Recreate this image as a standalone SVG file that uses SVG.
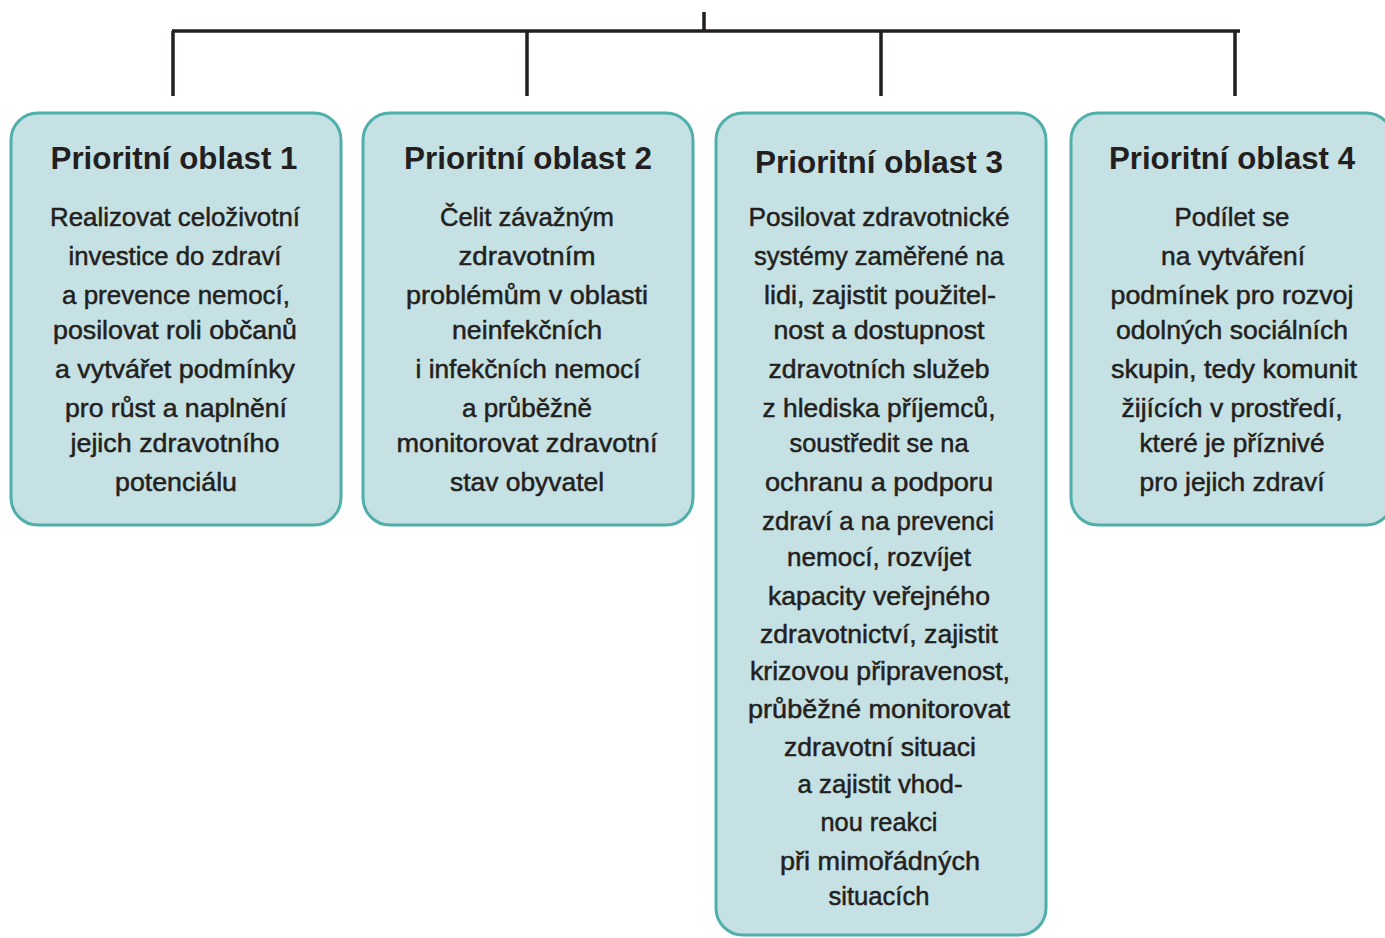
<svg xmlns="http://www.w3.org/2000/svg" width="1385" height="938" viewBox="0 0 1385 938">
<style>
.box{fill:#c6e1e3;stroke:#4fb0ab;stroke-width:3}
.conn{stroke:#231f20;stroke-width:3.5;fill:none}
.t{font-family:"Liberation Sans",Arial,sans-serif;font-weight:bold;font-size:31px;fill:#231f20;text-anchor:middle}
.b{font-family:"Liberation Sans",Arial,sans-serif;font-size:26px;fill:#231f20;stroke:#231f20;stroke-width:0.5;text-anchor:middle}
</style>
<rect width="1385" height="938" fill="#ffffff"/>
<g id="connectors">
<path class="conn" d="M704 12V31M172 31H1240M173 31V96M527 31V96M881 31V96M1235 31V96"/>
</g>
<g id="node1">
<rect class="box" x="11" y="113" width="330" height="412" rx="27"/>
<text class="t" x="174" y="169" textLength="247" lengthAdjust="spacingAndGlyphs">Prioritní oblast 1</text>
<text class="b" x="175" y="226" textLength="250" lengthAdjust="spacingAndGlyphs">Realizovat celoživotní</text>
<text class="b" x="175" y="265" textLength="213" lengthAdjust="spacingAndGlyphs">investice do zdraví</text>
<text class="b" x="176" y="304" textLength="228" lengthAdjust="spacingAndGlyphs">a prevence nemocí,</text>
<text class="b" x="175" y="339" textLength="244" lengthAdjust="spacingAndGlyphs">posilovat roli občanů</text>
<text class="b" x="175" y="378" textLength="240" lengthAdjust="spacingAndGlyphs">a vytvářet podmínky</text>
<text class="b" x="176" y="417" textLength="222" lengthAdjust="spacingAndGlyphs">pro růst a naplnění</text>
<text class="b" x="175" y="452" textLength="209" lengthAdjust="spacingAndGlyphs">jejich zdravotního</text>
<text class="b" x="176" y="491" textLength="122" lengthAdjust="spacingAndGlyphs">potenciálu</text>
</g>
<g id="node2">
<rect class="box" x="363" y="113" width="330" height="412" rx="27"/>
<text class="t" x="528" y="169" textLength="248" lengthAdjust="spacingAndGlyphs">Prioritní oblast 2</text>
<text class="b" x="527" y="226" textLength="174" lengthAdjust="spacingAndGlyphs">Čelit závažným</text>
<text class="b" x="527" y="265" textLength="137" lengthAdjust="spacingAndGlyphs">zdravotním</text>
<text class="b" x="527" y="304" textLength="242" lengthAdjust="spacingAndGlyphs">problémům v oblasti</text>
<text class="b" x="527" y="339" textLength="150" lengthAdjust="spacingAndGlyphs">neinfekčních</text>
<text class="b" x="528" y="378" textLength="225" lengthAdjust="spacingAndGlyphs">i infekčních nemocí</text>
<text class="b" x="527" y="417" textLength="130" lengthAdjust="spacingAndGlyphs">a průběžně</text>
<text class="b" x="527" y="452" textLength="261" lengthAdjust="spacingAndGlyphs">monitorovat zdravotní</text>
<text class="b" x="527" y="491" textLength="154" lengthAdjust="spacingAndGlyphs">stav obyvatel</text>
</g>
<g id="node3">
<rect class="box" x="716" y="113" width="330" height="822" rx="27"/>
<text class="t" x="879" y="173" textLength="248" lengthAdjust="spacingAndGlyphs">Prioritní oblast 3</text>
<text class="b" x="879" y="226" textLength="261" lengthAdjust="spacingAndGlyphs">Posilovat zdravotnické</text>
<text class="b" x="879" y="265" textLength="250" lengthAdjust="spacingAndGlyphs">systémy zaměřené na</text>
<text class="b" x="880" y="304" textLength="232" lengthAdjust="spacingAndGlyphs">lidi, zajistit použitel-</text>
<text class="b" x="879" y="339" textLength="211" lengthAdjust="spacingAndGlyphs">nost a dostupnost</text>
<text class="b" x="879" y="378" textLength="221" lengthAdjust="spacingAndGlyphs">zdravotních služeb</text>
<text class="b" x="879" y="417" textLength="233" lengthAdjust="spacingAndGlyphs">z hlediska příjemců,</text>
<text class="b" x="879" y="452" textLength="179" lengthAdjust="spacingAndGlyphs">soustředit se na</text>
<text class="b" x="879" y="491" textLength="228" lengthAdjust="spacingAndGlyphs">ochranu a podporu</text>
<text class="b" x="878" y="530" textLength="232" lengthAdjust="spacingAndGlyphs">zdraví a na prevenci</text>
<text class="b" x="879" y="566" textLength="184" lengthAdjust="spacingAndGlyphs">nemocí, rozvíjet</text>
<text class="b" x="879" y="605" textLength="222" lengthAdjust="spacingAndGlyphs">kapacity veřejného</text>
<text class="b" x="879" y="643" textLength="238" lengthAdjust="spacingAndGlyphs">zdravotnictví, zajistit</text>
<text class="b" x="880" y="680" textLength="260" lengthAdjust="spacingAndGlyphs">krizovou připravenost,</text>
<text class="b" x="879" y="718" textLength="262" lengthAdjust="spacingAndGlyphs">průběžné monitorovat</text>
<text class="b" x="880" y="756" textLength="192" lengthAdjust="spacingAndGlyphs">zdravotní situaci</text>
<text class="b" x="880" y="793" textLength="165" lengthAdjust="spacingAndGlyphs">a zajistit vhod-</text>
<text class="b" x="879" y="831" textLength="117" lengthAdjust="spacingAndGlyphs">nou reakci</text>
<text class="b" x="880" y="870" textLength="200" lengthAdjust="spacingAndGlyphs">při mimořádných</text>
<text class="b" x="879" y="905" textLength="101" lengthAdjust="spacingAndGlyphs">situacích</text>
</g>
<g id="node4">
<rect class="box" x="1071" y="113" width="322" height="412" rx="27"/>
<text class="t" x="1232" y="169" textLength="246" lengthAdjust="spacingAndGlyphs">Prioritní oblast 4</text>
<text class="b" x="1232" y="226" textLength="115" lengthAdjust="spacingAndGlyphs">Podílet se</text>
<text class="b" x="1233" y="265" textLength="144" lengthAdjust="spacingAndGlyphs">na vytváření</text>
<text class="b" x="1232" y="304" textLength="243" lengthAdjust="spacingAndGlyphs">podmínek pro rozvoj</text>
<text class="b" x="1232" y="339" textLength="232" lengthAdjust="spacingAndGlyphs">odolných sociálních</text>
<text class="b" x="1234" y="378" textLength="246" lengthAdjust="spacingAndGlyphs">skupin, tedy komunit</text>
<text class="b" x="1232" y="417" textLength="221" lengthAdjust="spacingAndGlyphs">žijících v prostředí,</text>
<text class="b" x="1232" y="452" textLength="185" lengthAdjust="spacingAndGlyphs">které je příznivé</text>
<text class="b" x="1232" y="491" textLength="185" lengthAdjust="spacingAndGlyphs">pro jejich zdraví</text>
</g>
</svg>
